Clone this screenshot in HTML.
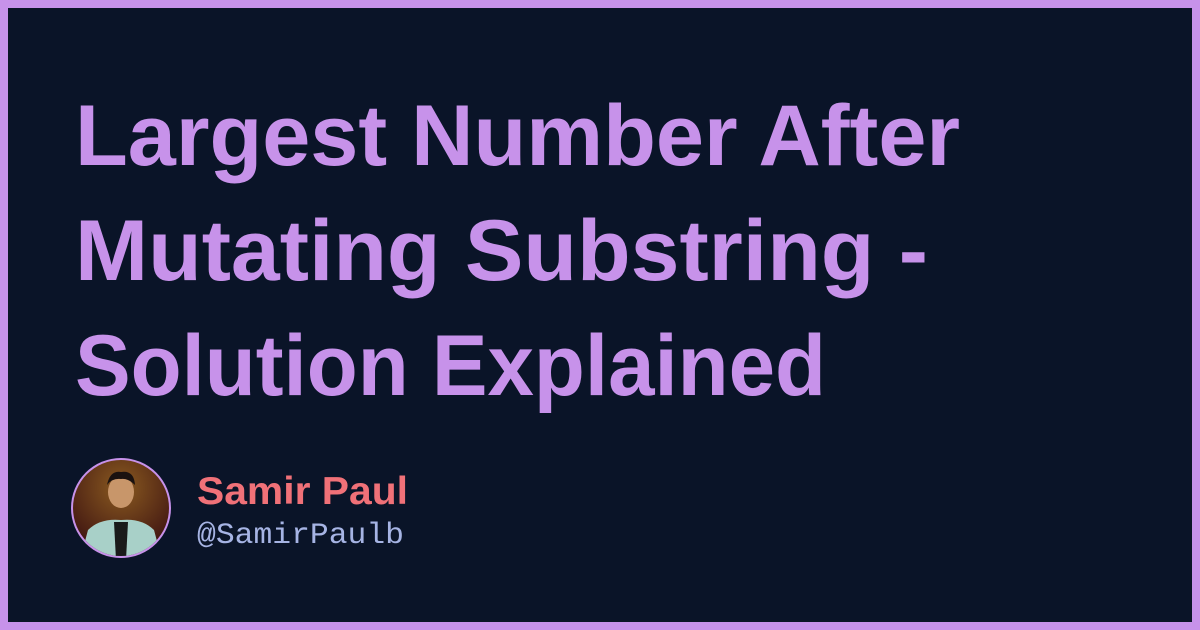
<!DOCTYPE html>
<html><head><meta charset="utf-8"><style>
html,body{margin:0;padding:0}
body{width:1200px;height:630px;overflow:hidden;background:#c792ea}
.card{position:absolute;left:8px;top:8px;width:1184px;height:614px;background:#0a1428}
</style></head><body>
<div class="card"></div>
<svg width="1200" height="630" style="position:absolute;left:0;top:0">
<defs><clipPath id="av"><circle cx="121" cy="508" r="48"/></clipPath>
<radialGradient id="bg" cx="0.5" cy="0.3" r="0.7"><stop offset="0" stop-color="#8a5a20"/><stop offset="1" stop-color="#3a1010"/></radialGradient></defs>
<g font-family="Liberation Sans, sans-serif" font-weight="bold" font-size="86" fill="#c792ea">
<text x="75" y="165" textLength="885" lengthAdjust="spacingAndGlyphs">Largest Number After</text>
<text x="75" y="280" textLength="853" lengthAdjust="spacingAndGlyphs">Mutating Substring -</text>
<text x="75" y="395" textLength="751" lengthAdjust="spacingAndGlyphs">Solution Explained</text>
</g>
<g>
<circle cx="121" cy="508" r="50" fill="#c792ea"/>
<g clip-path="url(#av)">
<rect x="70" y="456" width="102" height="104" fill="url(#bg)"/>
<path d="M80 560 L88 530 Q100 518 121 520 Q142 518 154 530 L162 560Z" fill="#a8d0c8"/>
<path d="M114 522 L128 522 L126 560 L116 560Z" fill="#1a1a1a"/>
<ellipse cx="121" cy="492" rx="13" ry="16" fill="#c8966a"/>
<path d="M107 485 Q110 470 121 472 Q134 470 135 485 Q128 478 121 479 Q112 478 107 485Z" fill="#1a1210"/>
</g></g>
<text x="197" y="504" font-family="Liberation Sans, sans-serif" font-weight="bold" font-size="39" fill="#f07178" textLength="211" lengthAdjust="spacingAndGlyphs">Samir Paul</text>
<text x="197" y="543" font-family="Liberation Mono, monospace" font-size="30" fill="#a6b4e4" textLength="207" lengthAdjust="spacingAndGlyphs">@SamirPaulb</text>
</svg>
</body></html>
